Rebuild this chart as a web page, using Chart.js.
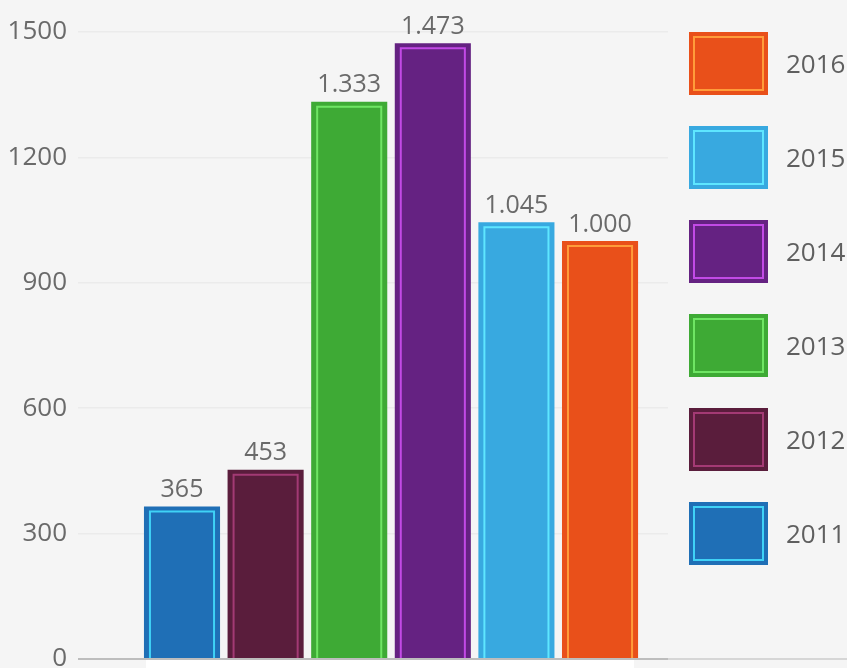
<!DOCTYPE html>
<html>
<head>
<meta charset="utf-8">
<script src="https://cdn.jsdelivr.net/npm/chart.js@4.4.1/dist/chart.umd.min.js"></script>
<style>
  html, body { margin: 0; padding: 0; background: #f5f5f5; overflow: hidden; }
  #wrap { position: relative; width: 847px; height: 700px; }
  #legend { position: absolute; left: 689px; top: 32px; }
  .item { position: absolute; left: 0; width: 240px; height: 63px; }
  .box { position: absolute; left: 0; top: 0; width: 79px; height: 63px; }
  .lbl { position: absolute; left: 97px; top: 0; white-space: nowrap;
         font: 26px "Open Sans", sans-serif; line-height: 63px; color: #5f5f5f; }
</style>
</head>
<body>
<div id="wrap">
  <canvas id="chart" width="847" height="700"></canvas>
  <div id="legend"></div>
</div>
<script>
// values
var years = ['2011', '2012', '2013', '2014', '2015', '2016'];
var totals = [365, 453, 1333, 1473, 1045, 1000];
var fills = ['#1f6fb6', '#5a1d3c', '#3eaa35', '#652282', '#38a9e0', '#e9501a'];
var lights = ['#3fd2f6', '#a33a74', '#6fe564', '#c24ae6', '#5ee6ff', '#ff9c3a'];
var yTicks = [0, 300, 600, 900, 1200, 1500];

var FONT = '"Open Sans", sans-serif';

function dotted(v) {
    return String(v).replace(/\B(?=(\d{3})+(?!\d))/g, '.');
}

// inner light frame + value label on each bar
var barFrames = {
    id: 'barFrames',
    afterDatasetsDraw: function (chart) {
        var ctx = chart.ctx;
        var meta = chart.getDatasetMeta(0);
        var first = null, last = null, base = 0;
        ctx.save();
        meta.data.forEach(function (bar, i) {
            var p = bar.getProps(['x', 'y', 'base', 'width'], true);
            var l = p.x - p.width / 2, r = p.x + p.width / 2;
            if (first === null) first = l;
            last = r;
            base = p.base;
            ctx.strokeStyle = lights[i];
            ctx.lineWidth = 2;
            ctx.beginPath();
            ctx.moveTo(l + 6, p.base);
            ctx.lineTo(l + 6, p.y + 5);
            ctx.lineTo(r - 6, p.y + 5);
            ctx.lineTo(r - 6, p.base);
            ctx.stroke();

            ctx.fillStyle = '#6a6a6a';
            ctx.font = '25px ' + FONT;
            ctx.textAlign = 'center';
            ctx.textBaseline = 'bottom';
            ctx.fillText(dotted(totals[i]), p.x, p.y - 4);
        });
        // pale strip under the bar group
        ctx.fillStyle = '#ffffff';
        ctx.fillRect(first + 2, base + 2, last - first - 6, 20);
        ctx.restore();
    },
    beforeDatasetsDraw: function (chart) {
        // baseline continues faintly under the legend
        var ctx = chart.ctx;
        var y0 = chart.scales.y.getPixelForValue(0);
        ctx.save();
        ctx.strokeStyle = '#d6d6d6';
        ctx.lineWidth = 2;
        ctx.beginPath();
        ctx.moveTo(chart.chartArea.right, y0);
        ctx.lineTo(chart.width, y0);
        ctx.stroke();
        ctx.restore();
    }
};

var points = years.map(function (y, i) { return { x: i, y: totals[i] }; });

new Chart(document.getElementById('chart'), {
    type: 'bar',
    data: {
        datasets: [{
            data: points,
            backgroundColor: fills,
            borderWidth: 0,
            barPercentage: 0.91,
            categoryPercentage: 1
        }]
    },
    options: {
        responsive: false,
        animation: false,
        layout: { padding: { top: 32, right: 179, bottom: 41, left: 0 } },
        plugins: { legend: { display: false }, tooltip: { enabled: false } },
        scales: {
            x: {
                type: 'linear',
                display: false,
                offset: false,
                grid: { offset: false },
                min: -1.244,
                max: 5.813,
                afterBuildTicks: function (s) {
                    s.ticks = years.map(function (y, i) { return { value: i }; });
                }
            },
            y: {
                min: 0,
                max: 1500,
                afterBuildTicks: function (s) {
                    s.ticks = yTicks.map(function (v) { return { value: v }; });
                },
                afterFit: function (s) { s.width = 78; },
                border: { display: false },
                grid: {
                    drawTicks: false,
                    color: function (c) { return c.tick && c.tick.value === 0 ? '#bdbdbd' : '#ebebeb'; },
                    lineWidth: function (c) { return c.tick && c.tick.value === 0 ? 2 : 1.5; }
                },
                ticks: {
                    padding: 11,
                    color: '#6a6a6a',
                    font: { family: FONT, size: 26 },
                    callback: function (v) { return String(v); }
                }
            }
        }
    },
    plugins: [barFrames]
});

// legend, newest year on top
var legend = document.getElementById('legend');
for (var k = years.length - 1, row = 0; k >= 0; k--, row++) {
    var item = document.createElement('div');
    item.className = 'item';
    item.style.top = (row * 94) + 'px';
    var box = document.createElement('div');
    box.className = 'box';
    box.style.background = fills[k];
    box.style.boxShadow = 'inset 0 0 0 4px ' + fills[k] + ', inset 0 0 0 6px ' + lights[k];
    var lbl = document.createElement('div');
    lbl.className = 'lbl';
    lbl.textContent = years[k];
    item.appendChild(box);
    item.appendChild(lbl);
    legend.appendChild(item);
}
</script>
</body>
</html>
